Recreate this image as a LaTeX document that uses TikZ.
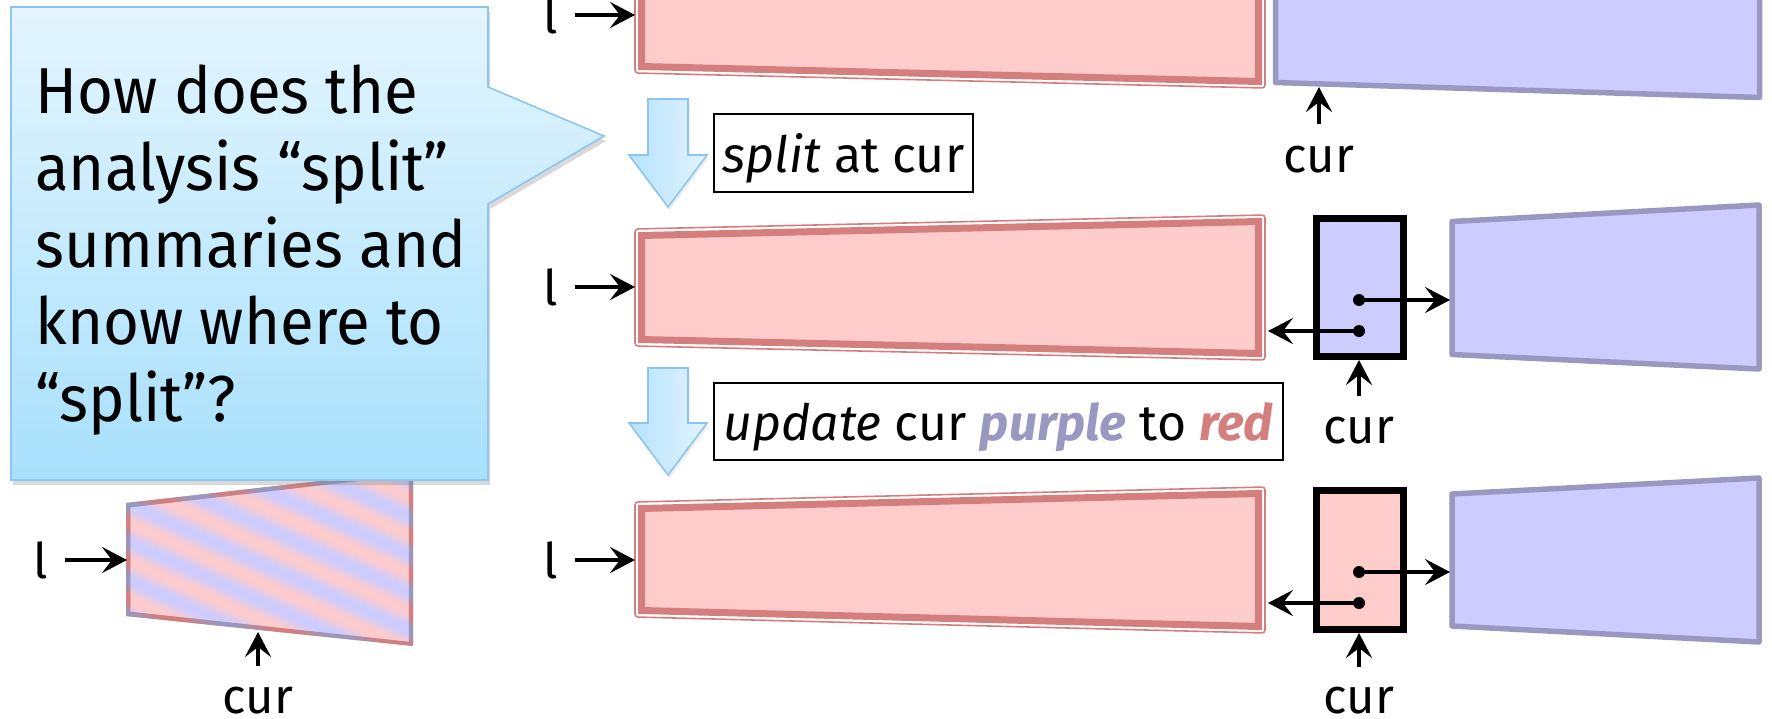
\documentclass[tikz,border=0pt]{standalone}
\usepackage{fontspec}
\setmainfont{Fira Sans}
\newfontfamily\calloutfont[FakeStretch=0.95]{Fira Sans}
\usetikzlibrary{arrows.meta,shadows}
\definecolor{rfill}{HTML}{FFCCCC}
\definecolor{rline}{HTML}{D47E7E}
\definecolor{bfill}{HTML}{CCCCFF}
\definecolor{bline}{HTML}{9898C0}
\definecolor{ctop}{HTML}{E3F5FE}
\definecolor{cbot}{HTML}{A8E0FC}
\definecolor{cline}{HTML}{8EC4F0}
\definecolor{aleft}{HTML}{B6E2FE}
\definecolor{aright}{HTML}{E2F4FF}
\newcommand\redbox[6]{%
  \draw[rline, line width=0.8pt, fill=white, rounded corners=1.5pt] (#1,#3) -- (#2,#4) -- (#2,#5) -- (#1,#6) -- cycle;
  \draw[rline, line width=3.5pt, fill=rfill] ({#1+6.5},{#3+6.5}) -- ({#2-6.5},{#4+6.5}) -- ({#2-6.5},{#5-6.5}) -- ({#1+6.5},{#6-6.5}) -- cycle;}
\begin{document}
\begin{tikzpicture}[x=0.5pt,y=-0.5pt,
  arr/.style={line width=2.1pt, -{Stealth[length=12.5pt,width=13pt,inset=5pt]}},
  lbl/.style={font=\fontsize{24.5}{29}\selectfont, inner sep=0pt},
  opbox/.style={draw, line width=1pt, inner sep=0pt, text height=22pt, text depth=3pt, font=\fontsize{25}{30}\selectfont},
  bluebox/.style={draw=bline, line width=2.75pt, fill=bfill, line join=round},
  curbox/.style={draw=black, line width=3.5pt},
  downarrow/.style={draw=cline, line width=0.8pt, left color=aleft, right color=aright,
     drop shadow={shadow xshift=0.8pt, shadow yshift=-1.5pt, opacity=0.15}}]
\useasboundingbox (0,0) rectangle (1772,718);
\clip (0,0) rectangle (1772,718);

% ---------- row 1 ----------
\redbox{635}{1265}{-44}{-57}{88}{73}
\draw[bluebox] (1275.5,-60) -- (1759.5,-75) -- (1759.5,97.5) -- (1275.5,82.5) -- cycle;
\node[lbl] (l1) at (551,15) {l};
\coordinate (r1w) at (635,15);
\draw[arr] ([xshift=8pt]l1.east) -- (r1w);
\node[lbl, anchor=base] (cur1) at (1319,172) {cur};
\coordinate (c1tip) at (1319,87);
\draw[arr] ([yshift=10.5pt]cur1.north) -- (c1tip);

% ---------- step 1 ----------
\path[downarrow] (648,99) -- (688,99) -- (688,155) -- (707,155) -- (668,207) -- (629,155) -- (648,155) -- cycle;
\node[opbox, minimum width=129.5pt, minimum height=39pt] (s1) at (843.5,153) {\textit{split} at cur};

% ---------- row 2 ----------
\redbox{635}{1265}{229}{215}{360}{346}
\draw[bluebox] (1452,221.5) -- (1759,205) -- (1759,369) -- (1452,354.5) -- cycle;
\draw[curbox, fill=bfill] (1316.5,218.5) rectangle (1403.5,356.5);
\node[lbl] (l2) at (551,287) {l};
\coordinate (r2w) at (635,287);
\draw[arr] ([xshift=8pt]l2.east) -- (r2w);
\coordinate (d2a) at (1359,300);
\coordinate (d2b) at (1359,331);
\coordinate (b2w) at (1450,300);
\coordinate (r2e) at (1268,331);
\fill (d2a) circle[radius=3pt];
\fill (d2b) circle[radius=3pt];
\draw[arr] (d2a) -- (b2w);
\draw[arr] (d2b) -- (r2e);
\node[lbl, anchor=base] (cur2) at (1359,443) {cur};
\coordinate (c2tip) at (1359,360);
\draw[arr] ([yshift=10pt]cur2.north) -- (c2tip);

% ---------- step 2 ----------
\path[downarrow] (648,368) -- (688,368) -- (688,423) -- (707,423) -- (668,475) -- (629,423) -- (648,423) -- cycle;
\node[opbox, minimum width=284.5pt, minimum height=38.5pt] (s2) at (998.5,421.5)
  {\textit{update} cur \textcolor{bline}{\textbf{\textit{purple}}} to \textcolor{rline}{\textbf{\textit{red}}}};

% ---------- row 3 ----------
\redbox{635}{1265}{502}{487}{633}{617}
\draw[bluebox] (1452,494) -- (1759,478) -- (1759,642) -- (1452,626) -- cycle;
\draw[curbox, fill=rfill] (1316.5,490.5) rectangle (1403.5,629.5);
\node[lbl] (l3) at (551,560) {l};
\coordinate (r3w) at (635,560);
\draw[arr] ([xshift=8pt]l3.east) -- (r3w);
\coordinate (d3a) at (1359,572);
\coordinate (d3b) at (1359,603);
\coordinate (b3w) at (1450,572);
\coordinate (r3e) at (1268,603);
\fill (d3a) circle[radius=3pt];
\fill (d3b) circle[radius=3pt];
\draw[arr] (d3a) -- (b3w);
\draw[arr] (d3b) -- (r3e);
\node[lbl, anchor=base] (cur3) at (1359,713) {cur};
\coordinate (c3tip) at (1359,633);
\draw[arr] ([yshift=9.5pt]cur3.north) -- (c3tip);

% ---------- striped summary ----------
\begin{scope}
  \clip (126,503) -- (413,470.5) -- (413,646) -- (126,616) -- cycle;
  \foreach \k in {0,...,330} {
    \pgfmathsetmacro\m{50+50*cos(\k*9.5)}
    \draw[line width=0.75pt, color=rline!\m!bline] (120,{330+\k}) -- (420,{330+\k+135});
  }
\end{scope}
\begin{scope}
  \clip (130.5,507.5) -- (408.5,475.5) -- (408.5,641.5) -- (130.5,611.5) -- cycle;
  \foreach \k in {0,...,330} {
    \pgfmathsetmacro\m{50+50*cos(\k*9.5)}
    \draw[line width=0.75pt, color=rfill!\m!bfill] (120,{330+\k}) -- (420,{330+\k+135});
  }
\end{scope}
\node[lbl] (l0) at (41,560) {l};
\coordinate (s0w) at (127,560);
\draw[arr] ([xshift=8pt]l0.east) -- (s0w);
\node[lbl, anchor=base] (cur0) at (258,713) {cur};
\coordinate (c0tip) at (258,632);
\draw[arr] ([yshift=10pt]cur0.north) -- (c0tip);

% ---------- callout ----------
\path[draw=cline, line width=0.8pt, top color=ctop, bottom color=cbot,
  drop shadow={shadow xshift=1pt, shadow yshift=-2.5pt, opacity=0.3}]
  (11,7) -- (488,7) -- (488,87) -- (604,136) -- (488,204) -- (488,480) -- (11,480) -- cycle;
\node[anchor=north west, align=left, inner sep=0pt, font=\calloutfont\fontsize{32.5}{38.5}\selectfont] (q) at (35,64)
  {How does the\\analysis “split”\\summaries and\\know where to\\“split”?};
\end{tikzpicture}
\end{document}
